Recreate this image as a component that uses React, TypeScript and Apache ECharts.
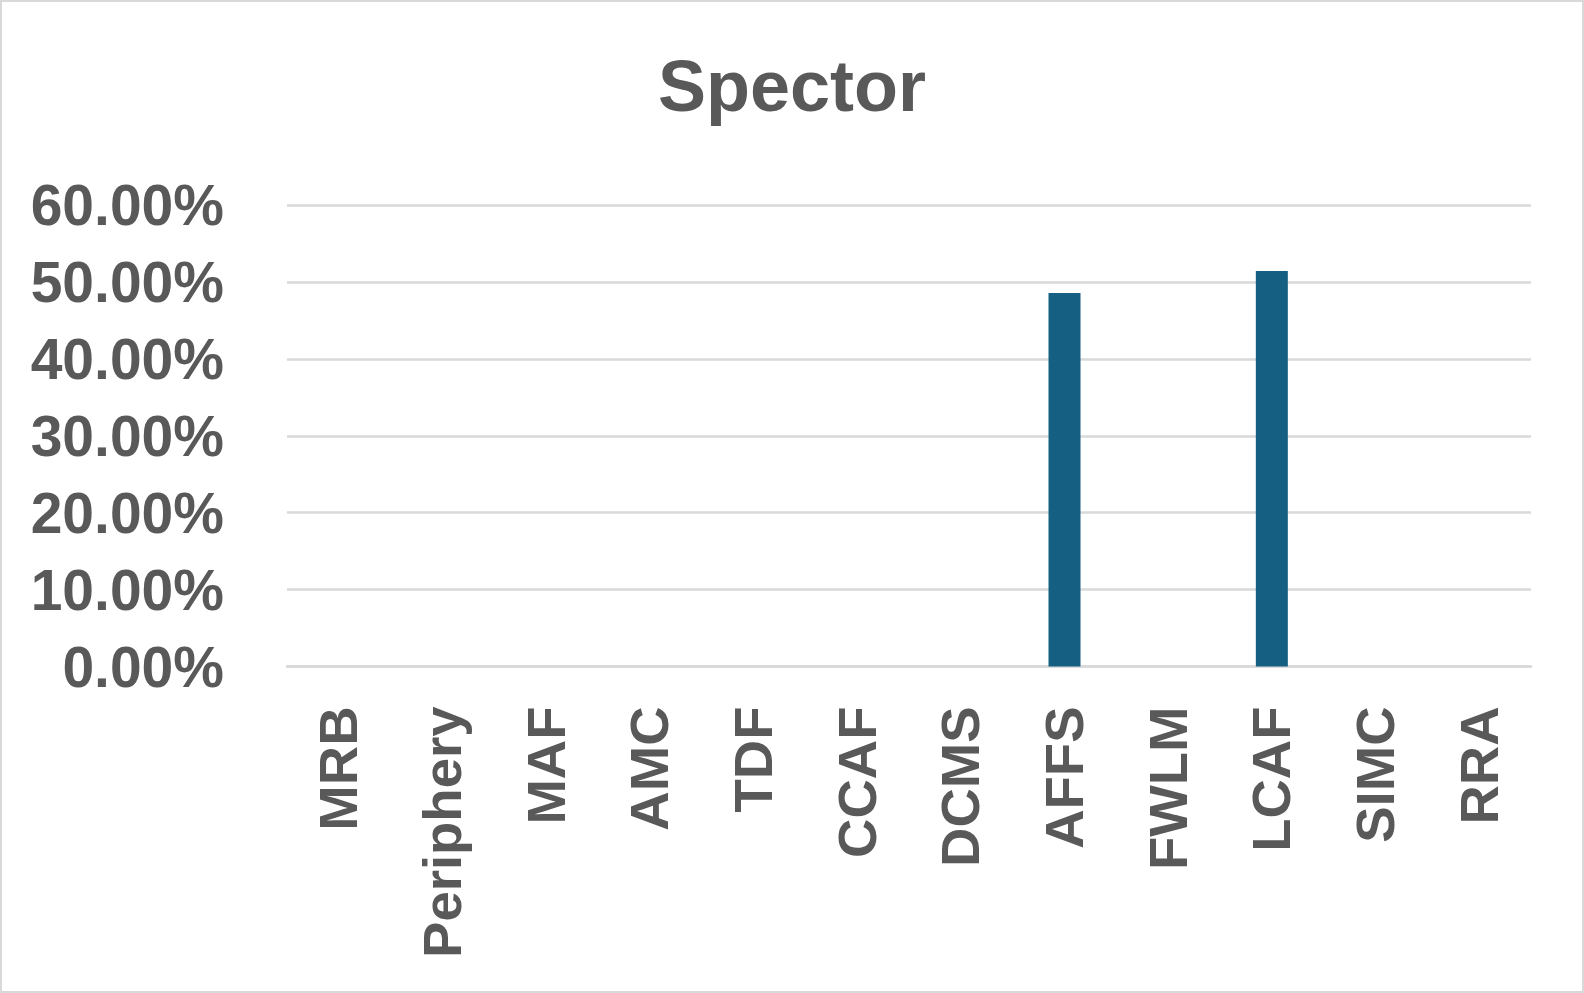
import React, { useEffect, useRef } from "react";
import * as echarts from "echarts";

const categories = ["MRB", "Periphery", "MAF", "AMC", "TDF", "CCAF", "DCMS", "AFFS", "FWLM", "LCAF", "SIMC", "RRA"];
const values = [0, 0, 0, 0, 0, 0, 0, 48.57, 0, 51.43, 0, 0];
const yTicks = { min: 0, max: 60, interval: 10 };
const titleText = "Spector";

export default function App() {
  const ref = useRef<HTMLDivElement>(null);
  useEffect(() => {
    if (!ref.current) return;
    const chart = echarts.init(ref.current, undefined, { renderer: "svg" });
    const font = "'Liberation Sans', Arial, sans-serif";
    chart.setOption({
      animation: false,
      backgroundColor: "#ffffff",
      title: {
        text: titleText,
        left: "center",
        top: 45,
        textStyle: { fontFamily: font, fontSize: 72, fontWeight: "bold", color: "#595959" },
      },
      graphic: [
        {
          type: "rect",
          shape: { x: 1, y: 1, width: 1582, height: 991 },
          style: { fill: "none", stroke: "#d9d9d9", lineWidth: 2 },
          silent: true,
        },
      ],
      grid: { left: 287, right: 53, top: 205, bottom: 326.5, containLabel: false },
      xAxis: {
        type: "category",
        data: categories,
        axisLine: { show: true, lineStyle: { color: "#d9d9d9", width: 2.5 } },
        axisTick: { show: false },
        axisLabel: {
          rotate: 90,
          margin: 40,
          interval: 0,
          fontFamily: font,
          fontSize: 54.5,
          fontWeight: "bold",
          color: "#595959",
        },
      },
      yAxis: {
        type: "value",
        min: yTicks.min,
        max: yTicks.max,
        interval: yTicks.interval,
        axisLine: { show: false },
        axisTick: { show: false },
        splitLine: { lineStyle: { color: "#d9d9d9", width: 2.5 } },
        axisLabel: {
          margin: 63,
          fontFamily: font,
          fontSize: 57,
          fontWeight: "bold",
          color: "#595959",
          formatter: (v: number) => v.toFixed(2) + "%",
        },
      },
      series: [
        {
          type: "bar",
          data: values,
          barWidth: 32,
          itemStyle: { color: "#156082" },
        },
      ],
    });
    return () => chart.dispose();
  }, []);
  return <div ref={ref} style={{ position: "absolute", left: 0, top: 0, width: 1584, height: 993 }} />;
}
